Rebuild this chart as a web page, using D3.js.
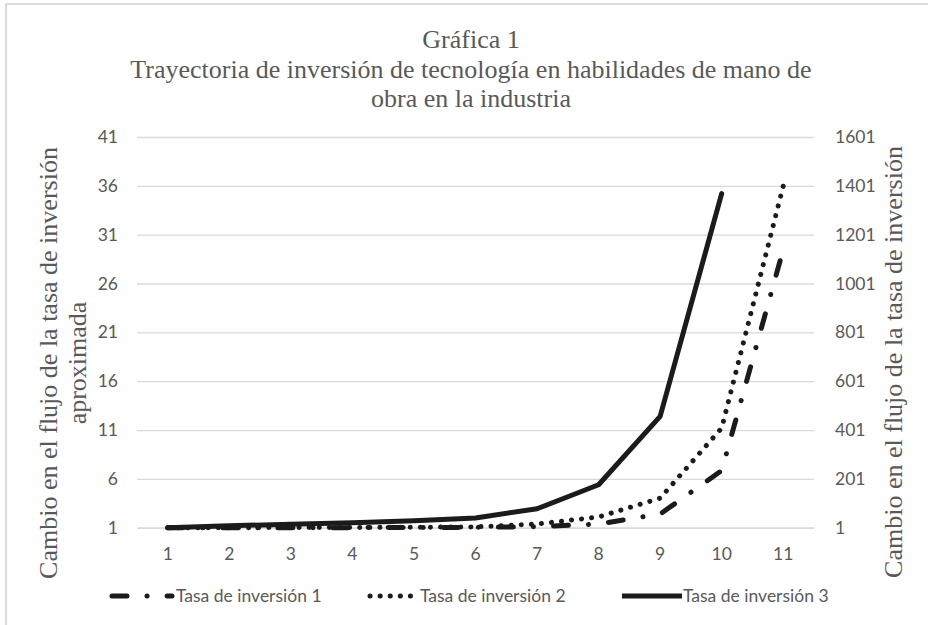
<!DOCTYPE html>
<html><head><meta charset="utf-8">
<script src="https://cdn.jsdelivr.net/npm/d3@7"></script>
<style>body{margin:0;background:#fff}</style>
</head><body>
<svg id="c" width="928" height="625"></svg>
<script>
const categories = [1,2,3,4,5,6,7,8,9,10,11];
const tasa1 = [1,1,1.1,1.3,1.6,2.5,5,16,57,235,1140];      // right axis
const tasa2 = [1,1.2,1.5,2,2.8,4.5,16,45,122,409,1400];     // right axis
const tasa3 = [1,1.2,1.35,1.5,1.7,2.0,2.94,5.4,12.4,35.2];  // left axis
const leftTicks = [1,6,11,16,21,26,31,36,41];
const rightTicks = [1,201,401,601,801,1001,1201,1401,1601];
const titleLines = ["Gráfica 1","Trayectoria  de inversión de tecnología en habilidades de mano de","obra en la industria"];
const leftTitle = ["Cambio en el flujo  de la tasa de inversión","aproximada"];
const rightTitle = "Cambio en el flujo  de la tasa de inversión";
const seriesNames = ["Tasa de inversión 1","Tasa de inversión 2","Tasa de inversión 3"];

const W = 928, H = 625;
const svg = d3.select("#c");
const serif = "'Liberation Serif','Times New Roman',serif";
const sans = "Lato,'Liberation Sans',sans-serif";
const txt = "#595959", grid = "#d9d9d9", ink = "#1b1b1b";

svg.append("rect").attr("x",6).attr("y",4).attr("width",W).attr("height",H)
  .attr("fill","#fff").attr("stroke","#d0d0d0").attr("stroke-width",1.5);

const L = 137, R = 814, T = 137, B = 527.7;
const x = d3.scaleBand().domain(categories).range([L,R]);
const cx = d => x(d) + x.bandwidth()/2;
const yL = d3.scaleLinear().domain([1,41]).range([B,T]);
const yR = d3.scaleLinear().domain([1,1601]).range([B,T]);

// title
svg.append("g").selectAll("text").data(titleLines).join("text")
  .attr("x",471).attr("y",(d,i)=>48+i*29.5).attr("text-anchor","middle")
  .attr("font-family",serif).attr("font-size",26).attr("fill",txt).text(d=>d);

// left axis + grid
const gL = svg.append("g").attr("transform",`translate(${L},0)`)
  .call(d3.axisLeft(yL).tickValues(leftTicks).tickFormat(d3.format("d")).tickSize(-(R-L)).tickPadding(19));
gL.select(".domain").remove();
gL.selectAll(".tick line").attr("stroke",grid).attr("stroke-width",1.3);
gL.selectAll("text").attr("font-family",sans).attr("font-size",17.5).attr("fill",txt);

// right axis
const gR = svg.append("g").attr("transform",`translate(${R},0)`)
  .call(d3.axisRight(yR).tickValues(rightTicks).tickFormat(d3.format("d")).tickSize(0).tickPadding(21));
gR.select(".domain").remove();
gR.selectAll("text").attr("font-family",sans).attr("font-size",17.5).attr("fill",txt);

// bottom axis
const gB = svg.append("g").attr("transform",`translate(0,${B})`)
  .call(d3.axisBottom(x).tickSize(0).tickPadding(20));
gB.select(".domain").attr("stroke",grid).attr("stroke-width",1.3);
gB.selectAll("text").attr("font-family",sans).attr("font-size",17.5).attr("fill",txt);

// axis titles
const lt = svg.append("text").attr("transform","translate(0,363) rotate(-90)")
  .attr("text-anchor","middle").attr("font-family",serif).attr("font-size",26).attr("fill",txt);
lt.selectAll("tspan").data(leftTitle).join("tspan").attr("x",0).attr("y",(d,i)=>57+i*29).text(d=>d);
svg.append("text").attr("transform","translate(902,362) rotate(-90)")
  .attr("text-anchor","middle").attr("font-family",serif).attr("font-size",26).attr("fill",txt).text(rightTitle);

// series
const styles = [
  {dash:"15 20 0.1 20"},
  {dash:"0.1 10"},
  {dash:null}
];
const series = [
  {vals:tasa1, y:yR},
  {vals:tasa2, y:yR},
  {vals:tasa3, y:yL}
];
series.forEach((s,i)=>{
  const line = d3.line().x((d,j)=>cx(categories[j])).y(d=>s.y(d));
  svg.append("path").datum(s.vals).attr("d",line).attr("fill","none")
    .attr("stroke",ink).attr("stroke-width",5).attr("stroke-linecap","round").attr("stroke-linejoin","round")
    .attr("stroke-dasharray",styles[i].dash);
});

// legend
const legItems = [
  {x1:112,x2:172,tx:176},
  {x1:370,x2:416,tx:420},
  {x1:622,x2:682,tx:683}
];
const leg = svg.append("g");
legItems.forEach((it,i)=>{
  leg.append("line").attr("x1",it.x1).attr("x2",it.x2).attr("y1",596).attr("y2",596)
    .attr("stroke",ink).attr("stroke-width",5).attr("stroke-linecap",i==2?"butt":"round")
    .attr("stroke-dasharray",styles[i].dash);
  leg.append("text").attr("x",it.tx).attr("y",596).attr("dy","0.35em")
    .attr("font-family",sans).attr("font-size",17.5).attr("fill",txt).text(seriesNames[i]);
});
</script>
</body></html>
